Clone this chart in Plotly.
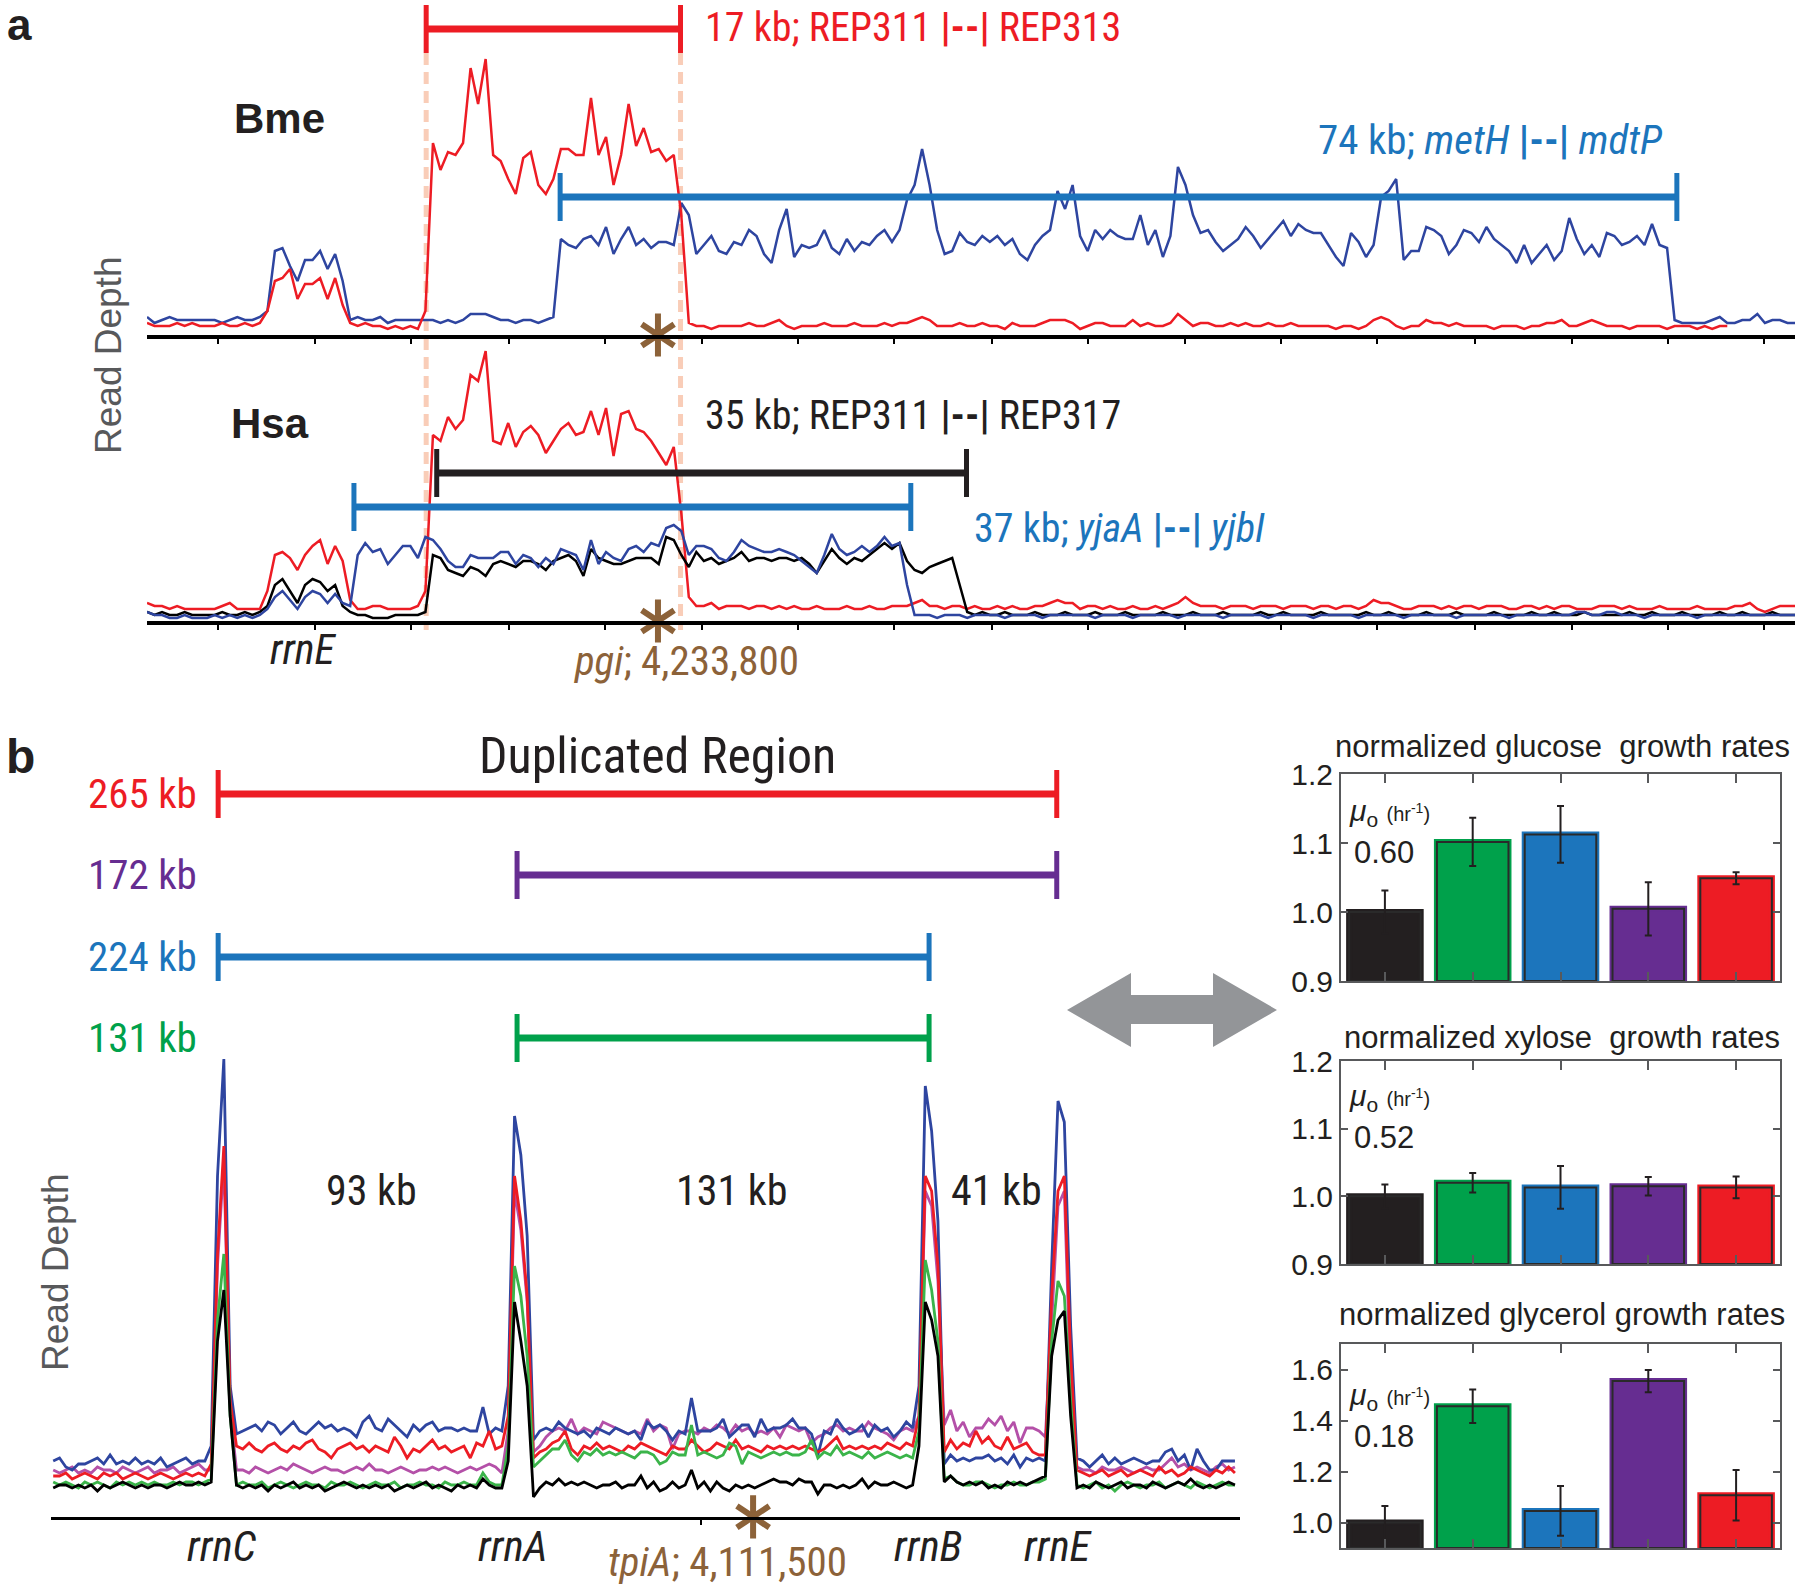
import plotly.graph_objects as go

W, H = 1800, 1587

# ======================= DATA =======================
# ---- panel a : read depth around pgi (genome kb), 0.5 kb bins ----
A_START = 4199.85
A_STEP = 0.5
A_LO, A_HI = 4199.85, 4309.35
PGI = 4233.8
TICKS_A = [4204.6, 4211.0, 4217.4, 4223.9, 4230.3, 4236.7, 4243.1, 4249.5, 4256.0,
           4262.4, 4268.8, 4275.2, 4281.6, 4288.1, 4294.5, 4300.9, 4307.3]
REP311_BME, REP313_BME = 4218.4, 4235.3
METH, MDTP = 4227.3, 4301.5
REP311_HSA, REP317_HSA = 4219.1, 4254.3
YJAA, YJBI = 4213.6, 4250.6

BME_RED = [
    4, 3, 3, 3, 4, 3, 4, 3, 3, 3, 4, 3, 3, 4, 3, 4,
    8, 18, 19, 22, 12, 17, 17, 19, 12, 19, 10, 4,
    3, 4, 3, 3, 2, 3, 2, 3, 2, 8,
    64, 55, 61, 60, 64, 89, 77, 92, 60, 58,
    52, 47, 59, 61, 50, 47, 52, 62, 62, 60,
    60, 79, 60, 66, 50, 60, 77, 63, 69, 61,
    62, 58, 60, 40, 4,
    3, 3, 2, 3, 3, 3, 3, 4, 3, 3,
    4, 5, 3, 2, 3, 3, 3, 4, 3, 3,
    3, 4, 3, 3, 3, 4, 3, 4, 4, 5,
    6, 5, 3, 3, 3, 4, 3, 3, 4, 3,
    3, 2, 4, 3, 3, 3, 4, 5, 5, 5,
    4, 2, 3, 4, 4, 3, 3, 3, 5, 3,
    4, 3, 3, 4, 7, 5, 3, 4, 4, 3,
    3, 4, 3, 4, 3, 3, 4, 3, 3, 4,
    3, 3, 3, 3, 3, 2, 3, 3, 2, 3,
    5, 6, 5, 3, 2, 3, 3, 5, 4, 4,
    3, 4, 3, 3, 3, 3, 2, 3, 3, 3,
    2, 3, 3, 4, 4, 5, 3, 3, 4, 5,
    4, 3, 3, 3, 2, 3, 3, 3, 3, 2,
    3, 3, 3, 2, 3, 2, 3, 3,
]
BME_BLUE = [
    6, 4, 5, 6, 5, 5, 5, 5, 5, 5, 4, 5, 6, 5, 5, 6,
    8, 28, 29, 23, 18, 25, 25, 28, 22, 27, 18, 5,
    6, 5, 5, 6, 4, 5, 5, 5, 5, 5, 5, 4, 5, 4, 5, 7, 7, 7, 6, 5, 5, 4, 5, 5, 4, 5, 6,
    32, 30, 29, 32, 33, 30, 36, 27, 32, 36, 30, 32, 29, 31, 31, 30, 44, 40,
    27, 30, 33, 28, 27, 31, 30, 35, 33, 27,
    24, 35, 42, 26, 30, 29, 30, 35, 29, 27,
    32, 28, 31, 30, 33, 35, 31, 35, 45, 50,
    62, 50, 35, 27, 28, 34, 31, 30, 33, 31,
    33, 30, 32, 27, 25, 30, 33, 35, 48, 42,
    50, 33, 28, 35, 32, 35, 33, 32, 32, 40,
    30, 35, 26, 33, 56, 50, 40, 34, 35, 31,
    28, 30, 32, 36, 33, 29, 32, 35, 38, 33,
    37, 35, 34, 34, 30, 26, 23, 34, 31, 26,
    30, 46, 48, 52, 25, 28, 28, 36, 35, 33,
    27, 30, 35, 34, 31, 36, 32, 30, 28, 24,
    30, 24, 27, 30, 25, 28, 39, 32, 27, 30,
    26, 34, 33, 30, 31, 33, 30, 37, 30, 29,
    5, 4, 4, 4, 4, 5, 6, 4, 4, 5,
    5, 7, 4, 5, 5, 4, 4,
]
HSA_RED = [
    6, 5, 5, 4, 5, 4, 4, 4, 4, 4, 5, 6, 4, 4, 4, 4,
    10, 22, 23, 21, 17, 22, 25, 27, 19, 25, 20, 7,
    4, 4, 5, 5, 4, 4, 4, 4, 5, 10,
    62, 60, 68, 64, 67, 82, 80, 90, 60, 59,
    66, 58, 63, 65, 62, 56, 60, 64, 66, 62,
    63, 70, 62, 71, 55, 69, 70, 64, 63, 60,
    56, 52, 58, 36, 8,
    5, 5, 6, 4, 5, 5, 5, 4, 5, 5,
    4, 5, 4, 5, 4, 4, 5, 4, 4, 4,
    5, 4, 4, 5, 4, 4, 5, 5, 5, 6,
    7, 5, 5, 4, 5, 5, 4, 5, 4, 4,
    5, 4, 5, 4, 4, 5, 5, 6, 7, 6,
    6, 4, 5, 5, 4, 5, 4, 4, 5, 4,
    4, 5, 4, 5, 6, 8, 6, 5, 5, 5,
    4, 5, 5, 5, 4, 5, 5, 5, 4, 5,
    5, 5, 4, 5, 5, 4, 5, 5, 4, 5,
    7, 6, 6, 5, 4, 4, 5, 5, 5, 4,
    5, 4, 5, 5, 4, 5, 5, 5, 4, 4,
    5, 5, 4, 5, 4, 5, 5, 4, 4, 4,
    5, 5, 5, 4, 5, 4, 4, 4, 5, 4,
    4, 4, 4, 5, 4, 4, 4, 4, 5, 5,
    6, 4, 3, 4, 5, 5, 5,
]
HSA_BLACK = [
    3, 2, 3, 2, 2, 3, 2, 2, 2, 2, 3, 2, 2, 3, 2, 3,
    5, 12, 14, 10, 6, 12, 14, 13, 10, 12, 5, 3,
    2, 2, 1, 1, 1, 2, 2, 2, 2, 3,
    22, 21, 17, 16, 15, 18, 17, 15, 19, 20,
    19, 18, 20, 20, 19, 17, 20, 21, 22, 20,
    15, 24, 21, 20, 19, 19, 20, 21, 21, 21,
    19, 28, 27, 22, 18, 23, 20, 21, 19, 20,
    21, 23, 20, 21, 21, 20, 21, 21, 20, 21,
    19, 16, 20, 24, 21, 19, 21, 20, 22, 24,
    26, 24, 26, 20, 17, 16, 18, 19, 20, 21,
    12, 3,
    2, 3, 2, 2, 3, 2, 2, 2, 3, 2,
    2, 2, 3, 2, 2, 2, 3, 2, 2, 2,
    3, 2, 2, 2, 2, 3, 2, 2, 2, 3,
    2, 2, 2, 3, 2, 2, 2, 2, 3, 2,
    2, 3, 2, 2, 2, 2, 3, 2, 2, 2,
    2, 2, 3, 2, 2, 3, 2, 2, 2, 2,
    3, 2, 2, 2, 3, 2, 2, 2, 2, 3,
    2, 2, 2, 2, 3, 2, 2, 3, 2, 2,
    2, 3, 2, 2, 2, 2, 2, 3, 2, 2,
    3, 2, 2, 2, 3, 2, 2, 2, 2, 3,
    2, 2, 3, 2, 2, 2, 3, 2, 2, 2,
]
HSA_BLUE = [
    3, 2, 2, 1, 1, 2, 1, 1, 1, 2, 1, 2, 1, 2, 1, 2,
    4, 8, 10, 7, 4, 8, 10, 9, 6, 9, 6, 5,
    22, 26, 23, 24, 19, 22, 25, 25, 21, 28,
    27, 24, 20, 18, 18, 22, 21, 21, 21, 23,
    23, 19, 22, 21, 18, 21, 19, 24, 23, 22,
    17, 27, 19, 23, 21, 20, 24, 25, 23, 26,
    25, 31, 32, 30, 22, 25, 25, 24, 21, 20,
    23, 27, 25, 24, 23, 23, 24, 23, 22, 20,
    18, 16, 22, 29, 24, 22, 23, 25, 23, 25,
    28, 25, 26, 12, 2,
    2, 2, 1, 2, 2, 2, 1, 2, 2, 2,
    2, 1, 2, 2, 2, 2, 1, 2, 2, 2,
    2, 2, 2, 1, 2, 2, 2, 2, 1, 2,
    2, 2, 2, 2, 1, 2, 2, 2, 2, 2,
    1, 2, 2, 2, 2, 2, 1, 2, 2, 2,
    2, 2, 1, 2, 2, 2, 2, 2, 1, 2,
    2, 2, 2, 2, 1, 2, 2, 2, 2, 2,
    2, 1, 2, 2, 2, 2, 2, 2, 1, 2,
    2, 2, 2, 2, 2, 2, 2, 3, 3, 2,
    2, 3, 3, 2, 2, 2, 1, 2, 2, 2,
    2, 2, 2, 1, 2, 2, 2, 2, 2, 2,
    2, 2, 2, 2, 2, 2, 2,
]

# ---- panel b : read depth across the rrn operons (genome kb), 2 kb bins ----
B_START = 3890.0
B_STEP = 2.0
B_LO, B_HI = 3889.3, 4265.6
RRNC, RRNA, RRNB, RRNE = 3942.2, 4036.8, 4167.2, 4207.6
TPIA = 4111.5
TICKS_B = [4095.0]

B_BLUE = ([15, 16, 13, 12, 14, 14, 15, 16, 14, 17, 14, 15, 14, 16, 14, 15, 14, 16, 13, 14, 15, 16, 14, 15, 15]
          + [20, 110, 149, 40]
          + [24, 25, 26, 27, 25, 28, 27, 24, 26, 28, 25, 24, 26, 28, 26, 27, 25, 26, 25, 23,
             28, 30, 26, 25, 29, 27, 25, 23, 27, 25, 27, 28, 25, 26, 26, 25, 26, 25, 25, 33, 24, 26, 25]
          + [40, 130, 117, 90]
          + [22, 25, 26, 25, 28, 26, 25, 24, 25, 23, 26, 25, 24, 26, 25, 24, 25, 22, 28, 26,
             27, 25, 22, 25, 24, 36, 25, 25, 25, 26, 29, 23, 25, 27, 27, 23, 29, 25, 26, 26,
             27, 29, 26, 26, 24, 17, 25, 24, 29, 26, 24, 25, 27, 23, 27, 25, 26, 23, 25, 28, 26]
          + [40, 140, 125, 95]
          + [14, 17, 15, 16, 15, 16, 16, 17, 15, 16, 14, 17, 13, 16, 15, 16, 15]
          + [80, 135, 128, 60]
          + [16, 15, 13, 15, 17, 14, 16, 14, 15, 16, 15, 14, 15, 15, 18, 19, 15, 17, 12, 19, 15, 12, 12, 15, 15, 15])
B_RED = ([10, 10, 11, 9, 10, 11, 10, 9, 11, 10, 11, 9, 10, 11, 10, 9, 10, 11, 10, 9, 10, 11, 10, 11, 10]
         + [14, 84, 120, 35]
         + [20, 19, 21, 19, 18, 20, 21, 19, 18, 20, 19, 21, 22, 19, 18, 16, 19, 20, 21, 19,
            20, 18, 20, 19, 18, 23, 20, 16, 19, 18, 20, 22, 19, 20, 18, 19, 20, 16, 21, 20, 25, 19, 20]
         + [30, 110, 95, 70]
         + [16, 18, 19, 21, 22, 25, 19, 17, 20, 19, 21, 19, 20, 19, 18, 20, 19, 21, 20, 19,
            18, 17, 20, 19, 19, 22, 20, 18, 19, 21, 20, 19, 22, 19, 20, 19, 18, 20, 19, 20,
            19, 20, 19, 20, 19, 18, 19, 21, 23, 19, 20, 19, 20, 19, 20, 19, 21, 20, 19, 21, 20]
         + [30, 110, 105, 80]
         + [18, 22, 19, 21, 20, 25, 21, 23, 20, 19, 23, 19, 20, 21, 18, 17, 17]
         + [70, 105, 110, 50]
         + [12, 11, 10, 11, 12, 10, 11, 12, 10, 11, 12, 11, 10, 13, 11, 12, 10, 11, 13, 12, 11, 10, 12, 11, 13, 11])
B_MAGENTA = ([12, 11, 12, 13, 11, 12, 11, 13, 12, 12, 11, 13, 12, 11, 12, 13, 11, 12, 12, 13, 11, 12, 13, 14, 12]
             + [12, 80, 115, 32]
             + [12, 12, 11, 13, 12, 11, 12, 13, 12, 14, 13, 12, 11, 12, 13, 12, 12, 11, 12, 13,
                12, 14, 12, 12, 11, 12, 13, 12, 11, 12, 12, 13, 12, 13, 12, 11, 12, 13, 12, 13, 14, 13, 11]
             + [25, 105, 92, 68]
             + [18, 20, 23, 25, 26, 25, 29, 24, 26, 25, 24, 28, 27, 26, 25, 24, 25, 24, 29, 25,
                27, 26, 19, 24, 25, 25, 24, 26, 25, 27, 26, 24, 27, 25, 26, 24, 25, 24, 26, 23,
                27, 26, 25, 26, 21, 23, 24, 26, 27, 25, 26, 25, 25, 28, 26, 25, 24, 22, 25, 26, 25]
             + [30, 105, 100, 75]
             + [27, 32, 25, 28, 23, 26, 26, 29, 27, 30, 25, 28, 21, 26, 26, 25, 23]
             + [60, 100, 105, 40]
             + [13, 12, 12, 11, 13, 12, 12, 13, 12, 11, 12, 13, 12, 12, 14, 16, 13, 14, 12, 13, 12, 11, 13, 14, 12, 13])
B_GREEN = ([8, 7, 8, 7, 6, 8, 7, 8, 7, 6, 8, 7, 8, 7, 8, 7, 8, 7, 7, 8, 7, 8, 8, 7, 8]
           + [9, 62, 84, 30]
           + [7, 8, 7, 7, 8, 6, 7, 8, 7, 6, 7, 8, 7, 7, 6, 8, 7, 7, 8, 7,
              6, 7, 8, 7, 7, 8, 6, 7, 7, 8, 7, 7, 6, 8, 7, 7, 8, 7, 7, 11, 8, 7, 7]
           + [20, 80, 70, 50]
           + [13, 15, 17, 19, 19, 22, 17, 15, 18, 17, 19, 17, 18, 17, 18, 17, 16, 18, 18, 17,
              14, 15, 18, 17, 17, 27, 17, 18, 17, 16, 17, 21, 20, 14, 18, 17, 16, 17, 18, 17,
              18, 17, 17, 18, 22, 16, 18, 17, 20, 17, 18, 17, 16, 18, 16, 17, 18, 17, 16, 17, 16]
           + [25, 82, 72, 55]
           + [9, 10, 8, 7, 7, 8, 8, 7, 6, 7, 7, 8, 7, 7, 8, 8, 9]
           + [55, 75, 70, 35]
           + [7, 6, 7, 8, 6, 7, 5, 7, 8, 7, 6, 7, 7, 8, 6, 7, 8, 7, 6, 8, 7, 6, 7, 8, 7, 7])
B_BLACK = ([6, 7, 7, 6, 7, 6, 7, 5, 7, 6, 7, 8, 7, 6, 7, 6, 7, 7, 6, 7, 8, 7, 7, 8, 7]
           + [8, 55, 72, 30]
           + [7, 6, 7, 6, 7, 5, 7, 6, 7, 8, 6, 7, 6, 7, 5, 6, 7, 8, 7, 6,
              7, 6, 7, 6, 7, 5, 6, 7, 6, 7, 8, 6, 7, 6, 5, 7, 6, 7, 6, 9, 7, 6, 6]
           + [15, 68, 55, 40]
           + [3, 6, 8, 7, 9, 7, 8, 7, 8, 7, 6, 7, 7, 8, 6, 7, 7, 10, 6, 8,
              5, 6, 8, 6, 7, 12, 6, 8, 5, 8, 6, 5, 7, 6, 7, 6, 7, 8, 9, 8,
              8, 7, 9, 8, 8, 4, 7, 7, 6, 7, 6, 7, 9, 6, 8, 7, 7, 8, 7, 6, 7]
           + [20, 68, 62, 50]
           + [8, 10, 8, 7, 8, 7, 8, 6, 7, 6, 8, 7, 8, 7, 8, 9, 10]
           + [50, 62, 65, 30]
           + [6, 7, 6, 8, 7, 6, 7, 8, 6, 7, 7, 6, 8, 7, 6, 7, 8, 7, 9, 7, 6, 7, 6, 7, 8, 7])

# ---- growth-rate bar charts ----
STRAINS = [1, 2, 3, 4, 5]
GLUCOSE = [1.000, 1.1015, 1.1125, 1.0046, 1.049]
GLUCOSE_ERR = [0.031, 0.035, 0.041, 0.0385, 0.0087]
XYLOSE = [1.000, 1.020, 1.0132, 1.0148, 1.0132]
XYLOSE_ERR = [0.0175, 0.0145, 0.0315, 0.0137, 0.016]
GLYCEROL = [1.000, 1.456, 1.0455, 1.5545, 1.107]
GLYCEROL_ERR = [0.065, 0.066, 0.0975, 0.0435, 0.099]
MU0 = ["0.60", "0.52", "0.18"]
TITLES = ["normalized glucose&nbsp; growth rates",
          "normalized xylose&nbsp; growth rates",
          "normalized glycerol growth rates"]

# ======================= STYLE =======================
RED = "#ED1C24"
BLUE_BAR = "#1C75BC"
TRACE_BLUE = "#2E45A0"
PURPLE = "#662D91"
GREEN = "#00A14B"
BROWN = "#8C6239"
INK = "#231F20"
GREY = "#58595B"
STRAIN_COLORS = [INK, GREEN, BLUE_BAR, PURPLE, RED]
COND = "Liberation Sans Narrow, Roboto Condensed, Arial Narrow, DejaVu Sans Condensed, Liberation Sans, sans-serif"
SANS = "Liberation Sans, Arial, sans-serif"


def fx(x):
    return x / W


def fy(y):
    return 1 - y / H


def bins(start, step, n):
    return [start + step * i for i in range(n)]


fig = go.Figure()


def line_trace(vals, start, step, color, xa, ya, width=2.5):
    fig.add_trace(go.Scatter(x=bins(start, step, len(vals)), y=vals, mode="lines",
                             line=dict(color=color, width=width), xaxis=xa, yaxis=ya,
                             hoverinfo="skip"))


# panel a traces
line_trace(BME_BLUE, A_START, A_STEP, TRACE_BLUE, "x", "y")
line_trace(BME_RED, A_START, A_STEP, RED, "x", "y")
line_trace(HSA_RED, A_START, A_STEP, RED, "x2", "y2")
line_trace(HSA_BLACK, A_START, A_STEP, "#000000", "x2", "y2")
line_trace(HSA_BLUE, A_START, A_STEP, TRACE_BLUE, "x2", "y2")

# panel b traces
line_trace(B_MAGENTA, B_START, B_STEP, "#B450A8", "x3", "y3", 2.8)
line_trace(B_BLUE, B_START, B_STEP, TRACE_BLUE, "x3", "y3", 2.8)
line_trace(B_RED, B_START, B_STEP, RED, "x3", "y3", 2.8)
line_trace(B_GREEN, B_START, B_STEP, "#3BB44A", "x3", "y3", 2.8)
line_trace(B_BLACK, B_START, B_STEP, "#000000", "x3", "y3", 2.8)


# asterisks marking pgi / tpiA (placed on the axis baseline)
def asterisk(x, y, xa, ya):
    for sym in ("y-up-open", "y-down-open"):
        fig.add_trace(go.Scatter(x=[x], y=[y], mode="markers", xaxis=xa, yaxis=ya, cliponaxis=False,
                                 marker=dict(symbol=sym, size=27, color=BROWN,
                                             line=dict(color=BROWN, width=6)),
                                 hoverinfo="skip"))


asterisk(PGI, 0.0, "x", "y")
asterisk(PGI, 0.0, "x2", "y2")
asterisk(TPIA, -3.6, "x3", "y3")

# growth-rate bars
for k, (vals, errs) in enumerate([(GLUCOSE, GLUCOSE_ERR), (XYLOSE, XYLOSE_ERR), (GLYCEROL, GLYCEROL_ERR)]):
    xa, ya = "x%d" % (k + 4), "y%d" % (k + 4)
    heights = [v - 0.9 for v in vals]
    fig.add_trace(go.Bar(x=STRAINS, y=heights, base=0.9, width=0.815, xaxis=xa, yaxis=ya,
                         marker=dict(color=STRAIN_COLORS, line=dict(color=STRAIN_COLORS, width=6)),
                         hoverinfo="skip"))
    fig.add_trace(go.Bar(x=STRAINS, y=heights, base=0.9, width=0.815, xaxis=xa, yaxis=ya,
                         marker=dict(color="rgba(0,0,0,0)", line=dict(color="#2A2A2A", width=2)),
                         hoverinfo="skip"))
    fig.add_trace(go.Scatter(x=STRAINS, y=vals, mode="markers", xaxis=xa, yaxis=ya,
                             marker=dict(size=1, color="rgba(0,0,0,0)"),
                             error_y=dict(type="data", array=errs, color=INK, thickness=2, width=3.5),
                             hoverinfo="skip"))

# ======================= AXES =======================
ax_a = dict(showline=True, linecolor="black", linewidth=3.5, ticks="outside", ticklen=5, tickwidth=2,
            tickcolor="black", tickvals=TICKS_A, showticklabels=False, showgrid=False, zeroline=False,
            range=[A_LO, A_HI], fixedrange=True, automargin=False)
hidden_y = dict(visible=False, showgrid=False, zeroline=False, fixedrange=True, automargin=False)

layout_axes = dict(
    xaxis=dict(ax_a, domain=[fx(147), fx(1795)], anchor="y"),
    yaxis=dict(hidden_y, domain=[fy(335), fy(35)], range=[0, 100], anchor="x"),
    xaxis2=dict(ax_a, domain=[fx(147), fx(1795)], anchor="y2"),
    yaxis2=dict(hidden_y, domain=[fy(621), fy(321)], range=[0, 100], anchor="x2"),
    xaxis3=dict(showline=True, linecolor="black", linewidth=3, ticks="outside", ticklen=5, tickwidth=2,
                tickcolor="black", tickvals=TICKS_B, showticklabels=False, showgrid=False, zeroline=False,
                range=[B_LO, B_HI], domain=[fx(51), fx(1240)], anchor="y3", automargin=False),
    yaxis3=dict(hidden_y, domain=[fy(1517), fy(1055)], range=[-3.67, 150.33], anchor="x3"),
)

bar_frames = [(981, 774, [0.9, 1.2], [0.9, 1.0, 1.1, 1.2]),
              (1264, 1061, [0.9, 1.2], [0.9, 1.0, 1.1, 1.2]),
              (1548, 1344, [0.9, 1.7], [1.0, 1.2, 1.4, 1.6])]
for k, (ybot, ytop, rng, tv) in enumerate(bar_frames):
    n = k + 4
    layout_axes["xaxis%d" % n] = dict(domain=[fx(1341), fx(1780)], anchor="y%d" % n, range=[0.5, 5.5],
                                      showline=True, mirror="ticks", linecolor=GREY, linewidth=2,
                                      ticks="inside", ticklen=9, tickwidth=2, tickcolor=GREY,
                                      tickvals=STRAINS, showticklabels=False, showgrid=False,
                                      zeroline=False, fixedrange=True, automargin=False)
    layout_axes["yaxis%d" % n] = dict(domain=[fy(ybot), fy(ytop)], anchor="x%d" % n, range=rng,
                                      showline=True, mirror="ticks", linecolor=GREY, linewidth=2,
                                      ticks="inside", ticklen=7, tickwidth=2, tickcolor=GREY,
                                      tickvals=tv, tickformat=".1f", showgrid=False, zeroline=False,
                                      tickfont=dict(family=SANS, size=30, color=INK), fixedrange=True,
                                      automargin=False)

# ======================= SHAPES =======================
shapes = []


def span(xref, x0, x1, ypix, color, half=24, lw=7, capw=5):
    yc = fy(ypix)
    shapes.append(dict(type="line", xref=xref, yref="paper", x0=x0, x1=x1, y0=yc, y1=yc,
                       line=dict(color=color, width=lw)))
    for xv in (x0, x1):
        shapes.append(dict(type="line", xref=xref, yref="paper", x0=xv, x1=xv,
                           y0=fy(ypix - half), y1=fy(ypix + half), line=dict(color=color, width=capw)))


# dashed guide lines at the REP311 / REP313 junctions
for xv in (REP311_BME, REP313_BME):
    shapes.append(dict(type="line", xref="x", yref="paper", x0=xv, x1=xv, y0=fy(53), y1=fy(630),
                       line=dict(color="#F9CDB8", width=5, dash="12px,7px"), layer="below"))

span("x", REP311_BME, REP313_BME, 29, RED)
span("x", METH, MDTP, 197, BLUE_BAR)
span("x", REP311_HSA, REP317_HSA, 473, "#231F20")
span("x", YJAA, YJBI, 507, BLUE_BAR)

span("x3", RRNC, RRNE, 794, RED)
span("x3", RRNA, RRNE, 875, PURPLE)
span("x3", RRNC, RRNB, 957, BLUE_BAR)
span("x3", RRNA, RRNB, 1038, GREEN)

# grey double arrow linking the two halves of panel b
pts = [(1067, 1010), (1131, 973), (1131, 995), (1213, 995), (1213, 973), (1277, 1010),
       (1213, 1047), (1213, 1024), (1131, 1024), (1131, 1047)]
path = "M " + " L ".join("%.5f,%.5f" % (fx(a), fy(b)) for a, b in pts) + " Z"
shapes.append(dict(type="path", xref="paper", yref="paper", path=path,
                   fillcolor="#939598", line=dict(width=0)))

# ======================= TEXT =======================
anns = []


def ann(text, x, y, size, color=INK, family=COND, xanchor="center", yanchor="middle", angle=0):
    anns.append(dict(text=text, x=fx(x), y=fy(y), xref="paper", yref="paper", showarrow=False,
                     font=dict(size=size, color=color, family=family), xanchor=xanchor,
                     yanchor=yanchor, textangle=angle))


ann("<b>a</b>", 19, 24, 44, family=SANS)
ann("<b>b</b>", 20, 756, 48, family=SANS)
ann("17 kb; REP311 <b>|--|</b> REP313", 703, 27, 40, color=RED, xanchor="left")
ann("<b>Bme</b>", 279, 119, 42, family=SANS)
ann("74 kb; <i>metH</i> <b>|--|</b> <i>mdtP</i>", 1316, 140, 41, color=BLUE_BAR, xanchor="left")
ann("<b>Hsa</b>", 270, 423, 42, family=SANS)
ann("35 kb; REP311 <b>|--|</b> REP317", 703, 415, 40, xanchor="left")
ann("37 kb; <i>yjaA</i> <b>|--|</b> <i>yjbI</i>", 972, 528, 40, color=BLUE_BAR, xanchor="left")
ann("<i>rrnE</i>", 303, 649, 42)
ann("<i>pgi</i>; 4,233,800", 686, 661, 41, color=BROWN)
ann("Read Depth", 109, 356, 37, color=GREY, family=SANS, angle=-90)

ann("Duplicated Region", 657, 756, 50)
ann("265 kb", 199, 794, 41, color=RED, xanchor="right")
ann("172 kb", 199, 875, 41, color=PURPLE, xanchor="right")
ann("224 kb", 199, 957, 41, color=BLUE_BAR, xanchor="right")
ann("131 kb", 199, 1038, 41, color=GREEN, xanchor="right")
ann("93 kb", 371, 1190, 42)
ann("131 kb", 731, 1190, 42)
ann("41 kb", 996, 1190, 42)
ann("<i>rrnC</i>", 222, 1546, 43)
ann("<i>rrnA</i>", 513, 1546, 43)
ann("<i>rrnB</i>", 928, 1546, 43)
ann("<i>rrnE</i>", 1058, 1546, 43)
ann("<i>tpiA</i>; 4,111,500", 727, 1562, 41, color=BROWN)
ann("Read Depth", 55, 1273, 37, color=GREY, family=SANS, angle=-90)

title_y = [746, 1037, 1314]
mu_y = [812, 1097, 1396]
val_y = [852, 1137, 1436]
for k in range(3):
    ann(TITLES[k], 1562, title_y[k], 31, family=SANS)
    ann("<i>μ</i><sub>o</sub> <span style='font-size:20px'>(hr<sup>-1</sup>)</span>", 1347, mu_y[k], 30,
        family=SANS, xanchor="left")
    ann(MU0[k], 1384, val_y[k], 31, family=SANS)

fig.update_layout(
    width=W, height=H, margin=dict(l=0, r=0, t=0, b=0, pad=0, autoexpand=False),
    paper_bgcolor="white", plot_bgcolor="rgba(0,0,0,0)", showlegend=False, barmode="overlay",
    shapes=shapes, annotations=anns, **layout_axes)

fig.write_html("out.html", config={"displayModeBar": False, "staticPlot": True},
               post_script="document.body.style.margin='0px';")
